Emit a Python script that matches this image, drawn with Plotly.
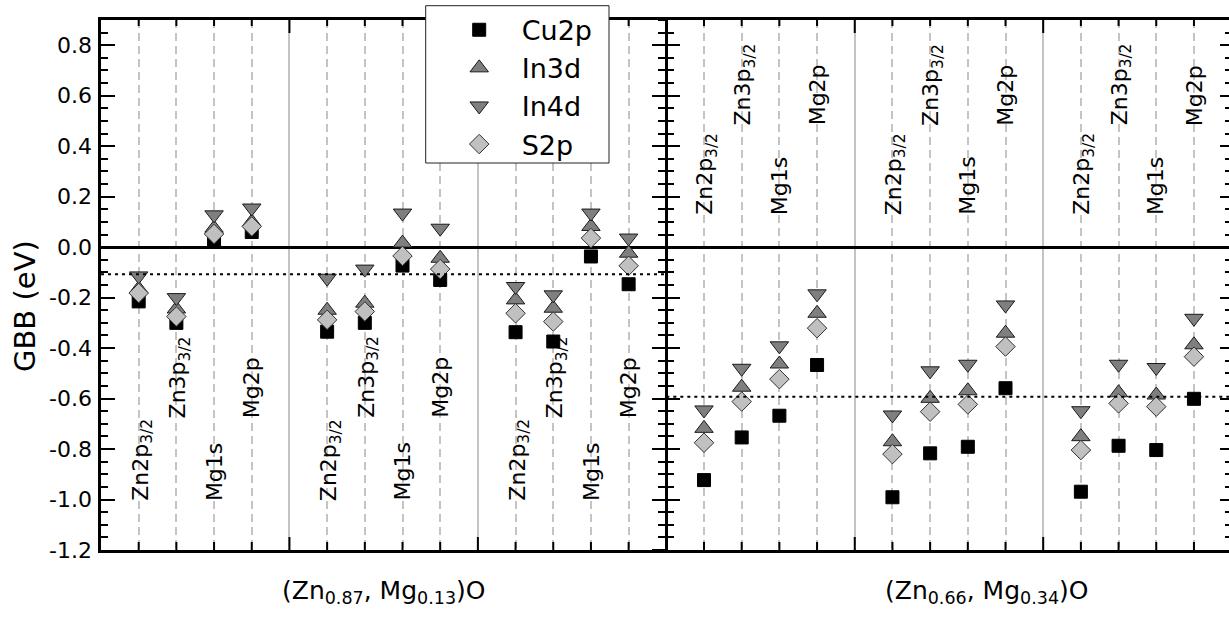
import plotly.graph_objects as go

# ---------------- data ----------------
positions = [1, 2, 3, 4, 6, 7, 8, 9, 11, 12, 13, 14,
             16, 17, 18, 19, 21, 22, 23, 24, 26, 27, 28, 29]
peak_labels = ["Zn2p<sub>3/2</sub>", "Zn3p<sub>3/2</sub>", "Mg1s", "Mg2p"] * 6

cu2p = [-0.215, -0.300, 0.030, 0.060, -0.335, -0.300, -0.073, -0.130,
        -0.337, -0.374, -0.037, -0.147,
        -0.923, -0.754, -0.668, -0.467, -0.991, -0.817, -0.791, -0.559,
        -0.969, -0.787, -0.804, -0.601]
in3d = [-0.165, -0.245, 0.075, 0.100, -0.250, -0.222, 0.016, -0.044,
        -0.209, -0.242, 0.082, -0.024,
        -0.718, -0.555, -0.463, -0.262, -0.771, -0.599, -0.569, -0.341,
        -0.751, -0.577, -0.586, -0.387]
in4d = [-0.114, -0.200, 0.128, 0.155, -0.123, -0.087, 0.135, 0.075,
        -0.156, -0.189, 0.135, 0.036,
        -0.645, -0.480, -0.391, -0.185, -0.665, -0.490, -0.464, -0.229,
        -0.648, -0.464, -0.477, -0.282]
s2p = [-0.182, -0.275, 0.052, 0.082, -0.288, -0.255, -0.035, -0.087,
       -0.262, -0.295, 0.036, -0.074,
       -0.775, -0.612, -0.523, -0.321, -0.820, -0.652, -0.623, -0.394,
       -0.804, -0.619, -0.632, -0.434]

mean_left = -0.107
mean_right = -0.593

y_tickvals = [-1.2, -1.0, -0.8, -0.6, -0.4, -0.2, 0.0, 0.2, 0.4, 0.6, 0.8]
y_ticktext = ["-1.2", "-1.0", "-0.8", "-0.6", "-0.4", "-0.2", "0.0", "0.2", "0.4", "0.6", "0.8"]

group_titles = ["(Zn<sub>0.87</sub>, Mg<sub>0.13</sub>)O", "(Zn<sub>0.66</sub>, Mg<sub>0.34</sub>)O"]

# ---------------- layout constants ----------------
XMAX = 29.93
YMIN, YMAX = -1.2, 0.9
MID = 15
FONT = "DejaVu Sans"
GRID = "#c4c4c4"
W, H = 1229, 619
ML, MT, MB = 101, 20, 69
PW, PH = W - ML, H - MT - MB
UPP = (YMAX - YMIN) / PH   # data units per pixel (vertical)


def px_x(p):
    return (p - ML) / PW


def px_y(p):
    return (H - MB - p) / PH


fig = go.Figure()
series = [
    ("Cu2p", cu2p, "square", "#000000", "#000000", 13),
    ("In3d", in3d, "triangle-up", "#7f7f7f", "#1a1a1a", 16),
    ("In4d", in4d, "triangle-down", "#7f7f7f", "#1a1a1a", 16),
    ("S2p", s2p, "diamond", "#c0c0c0", "#333333", 15),
]
for name, vals, sym, fill, lc, sz in series:
    fig.add_trace(go.Scatter(
        x=positions, y=vals, mode="markers", name=name,
        marker=dict(symbol=sym, size=sz, color=fill, line=dict(color=lc, width=1)),
    ))

# dotted mean lines
fig.add_shape(type="line", xref="x", yref="y", x0=0, x1=MID, y0=mean_left, y1=mean_left,
              line=dict(color="black", width=2, dash="3px,4px"))
fig.add_shape(type="line", xref="x", yref="y", x0=MID, x1=XMAX, y0=mean_right, y1=mean_right,
              line=dict(color="black", width=2, dash="3px,4px"))

# x-axis tick marks (bottom and top, pointing inwards)
for k in range(1, 30):
    if k == MID:
        continue
    major = (k % 5 == 0)
    lb = (13 if major else 8) * UPP
    lt = (13 if major else 6) * UPP
    fig.add_shape(type="line", xref="x", yref="y", layer="above",
                  x0=k, x1=k, y0=YMIN, y1=YMIN + lb,
                  line=dict(color="black", width=2))
    fig.add_shape(type="line", xref="x", yref="y", layer="above",
                  x0=k, x1=k, y0=YMAX, y1=YMAX - lt,
                  line=dict(color="black", width=2))

# legend frame (opaque box, covers axis line like the original)
fig.add_shape(type="rect", xref="paper", yref="paper", layer="above",
              x0=px_x(425.7), x1=px_x(609), y0=px_y(163), y1=px_y(5.7),
              fillcolor="white", line=dict(color="#222222", width=1))

# peak labels
low_left = [-1.014, -0.685, -1.014, -0.685]
low_right = [0.120, 0.473, 0.120, 0.473]
for i, (p, lab) in enumerate(zip(positions, peak_labels)):
    yb = (low_left if p < MID else low_right)[i % 4]
    fig.add_annotation(x=p, y=yb, xref="x", yref="y", text=lab, textangle=-90,
                       showarrow=False, xanchor="center", yanchor="bottom",
                       xshift=3 if "sub" in lab else 0,
                       font=dict(family=FONT, size=22, color="black"))

# group titles
for xc, t in zip([7.5, 23.5], group_titles):
    fig.add_annotation(x=xc, y=-0.046, xref="x", yref="paper", text=t, showarrow=False,
                       xanchor="center", yanchor="top",
                       font=dict(family=FONT, size=25, color="black"))

# y title
fig.add_annotation(x=px_x(25), y=px_y(306), xref="paper", yref="paper", text="GBB (eV)",
                   textangle=-90, showarrow=False, xanchor="center", yanchor="middle",
                   font=dict(family=FONT, size=29, color="black"))

tick = dict(tickwidth=2, tickcolor="black")
xmaj = dict(range=[0, XMAX], tickmode="linear", tick0=0, dtick=5, showticklabels=False,
            ticks="", zeroline=False)
ymaj = dict(range=[YMIN, YMAX], tickmode="linear", tick0=0, dtick=0.2,
            showticklabels=False, showgrid=False, zeroline=False, **tick)

fig.update_layout(
    xaxis=dict(**xmaj, showline=True, linecolor="black", linewidth=2.5,
               showgrid=True, gridcolor=GRID, gridwidth=2,
               minor=dict(dtick=1, tick0=0, showgrid=True, gridcolor=GRID, gridwidth=2,
                          griddash="8px,5px")),
    xaxis2=dict(**xmaj, overlaying="x", side="top", anchor="y", showline=True,
                linecolor="black", linewidth=2.5, showgrid=False),
    # left axis ticks
    yaxis=dict(**ymaj, ticks="inside", ticklen=14, showline=True, linecolor="black",
               linewidth=2.5,
               minor=dict(dtick=0.05, tick0=0, ticks="inside", ticklen=7, **tick, showgrid=False)),
    # middle axis, left-pointing ticks + line
    yaxis2=dict(**ymaj, overlaying="y", anchor="free", position=MID / XMAX, side="left",
                ticks="outside", ticklen=13, showline=True, linecolor="black", linewidth=3,
                minor=dict(dtick=0.05, tick0=0, ticks="outside", ticklen=7, **tick, showgrid=False)),
    # middle axis, right-pointing ticks
    yaxis3=dict(**ymaj, overlaying="y", anchor="free", position=MID / XMAX, side="left",
                ticks="inside", ticklen=13, showline=False,
                minor=dict(dtick=0.05, tick0=0, ticks="inside", ticklen=7, **tick, showgrid=False)),
    # right edge ticks
    yaxis4=dict(**ymaj, overlaying="y", anchor="x", side="right", ticks="inside", ticklen=9,
                showline=False,
                minor=dict(dtick=0.05, tick0=0, ticks="inside", ticklen=4, **tick, showgrid=False)),
    # tick labels + zero line
    yaxis5=dict(range=[YMIN, YMAX], overlaying="y", anchor="x", side="left",
                tickmode="array", tickvals=y_tickvals, ticktext=y_ticktext, ticks="",
                showgrid=False, zeroline=True, zerolinecolor="black", zerolinewidth=2.5,
                ticklabelstandoff=8,
                tickfont=dict(family=FONT, size=22, color="black")),
    legend=dict(x=px_x(425.7), y=px_y(5.7), xanchor="left", yanchor="top",
                bgcolor="rgba(0,0,0,0)", borderwidth=0,
                font=dict(family=FONT, size=27, color="black"),
                itemwidth=75, indentation=11),
    showlegend=True,
    width=W, height=H,
    margin=dict(l=ML, r=0, t=MT, b=MB),
    plot_bgcolor="white", paper_bgcolor="white",
    font=dict(family=FONT, color="black"),
)

# invisible helper traces so that every overlay axis is rendered
for xa, ya in [("x2", "y"), ("x", "y2"), ("x", "y3"), ("x", "y4"), ("x", "y5")]:
    fig.add_trace(go.Scatter(x=[None], y=[None], xaxis=xa, yaxis=ya, showlegend=False,
                             hoverinfo="skip"))

fig.write_html("out.html")
